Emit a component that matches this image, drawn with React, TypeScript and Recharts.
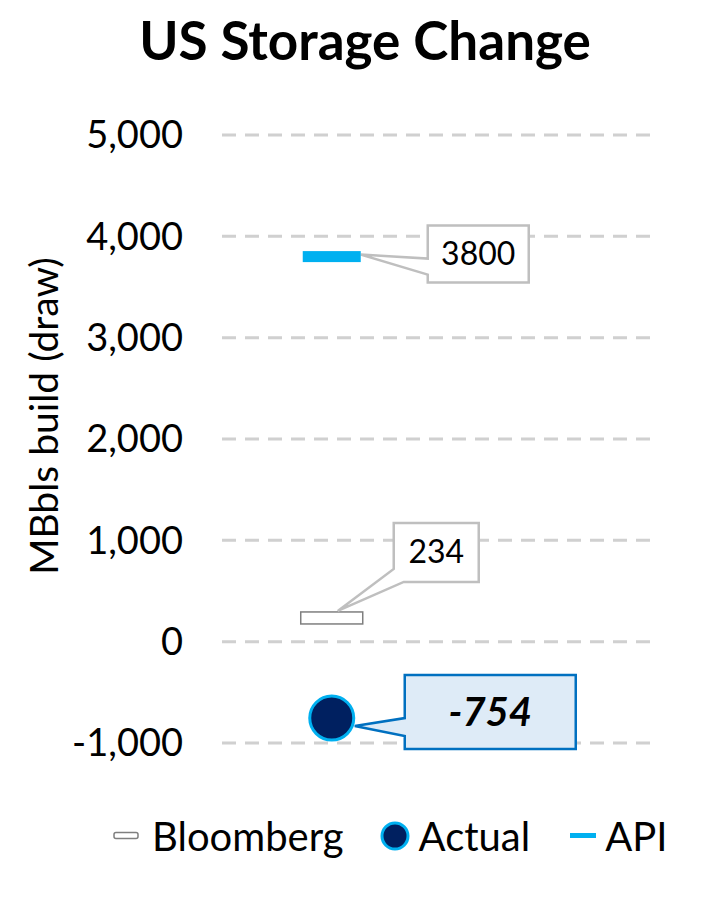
import {
  ComposedChart,
  Scatter,
  XAxis,
  YAxis,
  CartesianGrid,
  Legend,
} from "recharts";

const FONT = "Lato, 'Open Sans', sans-serif";

const yTicks = [-1000, 0, 1000, 2000, 3000, 4000, 5000];
const bloomberg = [{ x: 1, y: 234 }];
const actual = [{ x: 1, y: -754 }];
const api = [{ x: 1, y: 3800 }];

const fmt = (v: number) => v.toLocaleString("en-US");

function BloombergShape(props: any) {
  const { cx, cy, payload } = props;
  const L = cx + 62;
  const T = cy - 95;
  const R = cx + 147;
  const B = cy - 36;
  return (
    <g>
      <rect x={cx - 31} y={cy - 6} width={62} height={12} fill="#fff" stroke="#7f7f7f" strokeWidth={1.5} />
      <path
        d={`M${L},${T} H${R} V${B} H${L + 10} L${cx + 6},${cy - 7} L${L},${B - 13} Z`}
        fill="#fff"
        stroke="#bfbfbf"
        strokeWidth={2.5}
      />
      <text x={(L + R) / 2} y={(T + B) / 2 + 11} textAnchor="middle" fontSize={32} fontFamily={FONT} fill="#000">
        {payload.y}
      </text>
    </g>
  );
}

function ApiShape(props: any) {
  const { cx, cy, payload } = props;
  const L = cx + 96;
  const T = cy - 31;
  const R = cx + 197;
  const B = cy + 26;
  return (
    <g>
      <path
        d={`M${L},${T} H${R} V${B} H${L} V${cy + 18} L${cx + 29},${cy - 2} L${L},${cy + 2} Z`}
        fill="#fff"
        stroke="#bfbfbf"
        strokeWidth={2.5}
      />
      <rect x={cx - 29} y={cy - 5.5} width={58} height={11} fill="#00b0f0" />
      <text x={(L + R) / 2} y={(T + B) / 2 + 11} textAnchor="middle" fontSize={32} fontFamily={FONT} fill="#000">
        {payload.y}
      </text>
    </g>
  );
}

function ActualShape(props: any) {
  const { cx, cy, payload } = props;
  const L = cx + 73;
  const T = cy - 43;
  const R = cx + 244;
  const B = cy + 31;
  return (
    <g>
      <path
        d={`M${L},${T} H${R} V${B} H${L} V${cy + 18} L${cx + 23},${cy + 8} L${L},${cy} Z`}
        fill="#deebf7"
        stroke="#0070c0"
        strokeWidth={2.5}
      />
      <circle cx={cx} cy={cy} r={22} fill="#002060" stroke="#00b0f0" strokeWidth={3} />
      <text
        x={(L + R) / 2}
        y={(T + B) / 2 + 14}
        textAnchor="middle"
        fontSize={40}
        fontWeight="bold"
        fontStyle="italic"
        fontFamily={FONT}
        fill="#000"
      >
        {payload.y}
      </text>
    </g>
  );
}

function LegendContent() {
  const item = { display: "flex", alignItems: "center" } as const;
  return (
    <div
      style={{
        display: "flex",
        alignItems: "center",
        fontFamily: FONT,
        fontSize: 40,
        color: "#000",
        paddingLeft: 113,
      }}
    >
      <div style={item}>
        <svg width={26} height={10} style={{ marginRight: 13 }}>
          <rect x={1} y={1.5} width={24} height={6} rx={2} fill="#fff" stroke="#7f7f7f" strokeWidth={1.5} />
        </svg>
        Bloomberg
      </div>
      <div style={{ ...item, marginLeft: 36 }}>
        <svg width={30} height={30} style={{ marginRight: 9 }}>
          <circle cx={15} cy={15} r={13} fill="#002060" stroke="#00b0f0" strokeWidth={3} />
        </svg>
        Actual
      </div>
      <div style={{ ...item, marginLeft: 40 }}>
        <svg width={26} height={8} style={{ marginRight: 9 }}>
          <rect x={0} y={1} width={26} height={5} fill="#00b0f0" />
        </svg>
        API
      </div>
    </div>
  );
}

function YLabel() {
  return (
    <text
      x={43}
      y={416}
      transform="rotate(-90 43 416)"
      textAnchor="middle"
      dominantBaseline="central"
      fontSize={39}
      fontFamily={FONT}
      fill="#000"
    >
      MBbls build (draw)
    </text>
  );
}

export default function App() {
  return (
    <div style={{ position: "absolute", left: 0, top: 0, width: 705, height: 912, background: "#fff" }}>
      <div
        style={{
          position: "absolute",
          top: 8,
          left: 0,
          width: 730,
          textAlign: "center",
          fontFamily: FONT,
          fontWeight: "bold",
          fontSize: 53,
          color: "#000",
        }}
      >
        US Storage Change
      </div>
      <ComposedChart width={705} height={912} margin={{ top: 135, right: 55, bottom: 117, left: 0 }}>
        <CartesianGrid vertical={false} stroke="#d0d0d0" strokeWidth={3} strokeDasharray="14 9" />
        <XAxis type="number" dataKey="x" domain={[0, 3.9]} hide />
        <YAxis
          type="number"
          dataKey="y"
          domain={[-1000, 5000]}
          ticks={yTicks}
          tickFormatter={fmt}
          width={222}
          axisLine={false}
          tickLine={false}
          tickSize={0}
          tickMargin={39}
          tick={{ fontSize: 38, fontFamily: FONT, fill: "#000" }}
          label={{ content: () => <YLabel /> }}
        />
        <Scatter name="Bloomberg" data={bloomberg} shape={<BloombergShape />} isAnimationActive={false} />
        <Scatter name="Actual" data={actual} shape={<ActualShape />} isAnimationActive={false} />
        <Scatter name="API" data={api} shape={<ApiShape />} isAnimationActive={false} />
        <Legend
          content={() => <LegendContent />}
          wrapperStyle={{ position: "absolute", left: 0, top: 812, width: 705, height: 52 }}
        />
      </ComposedChart>
    </div>
  );
}
